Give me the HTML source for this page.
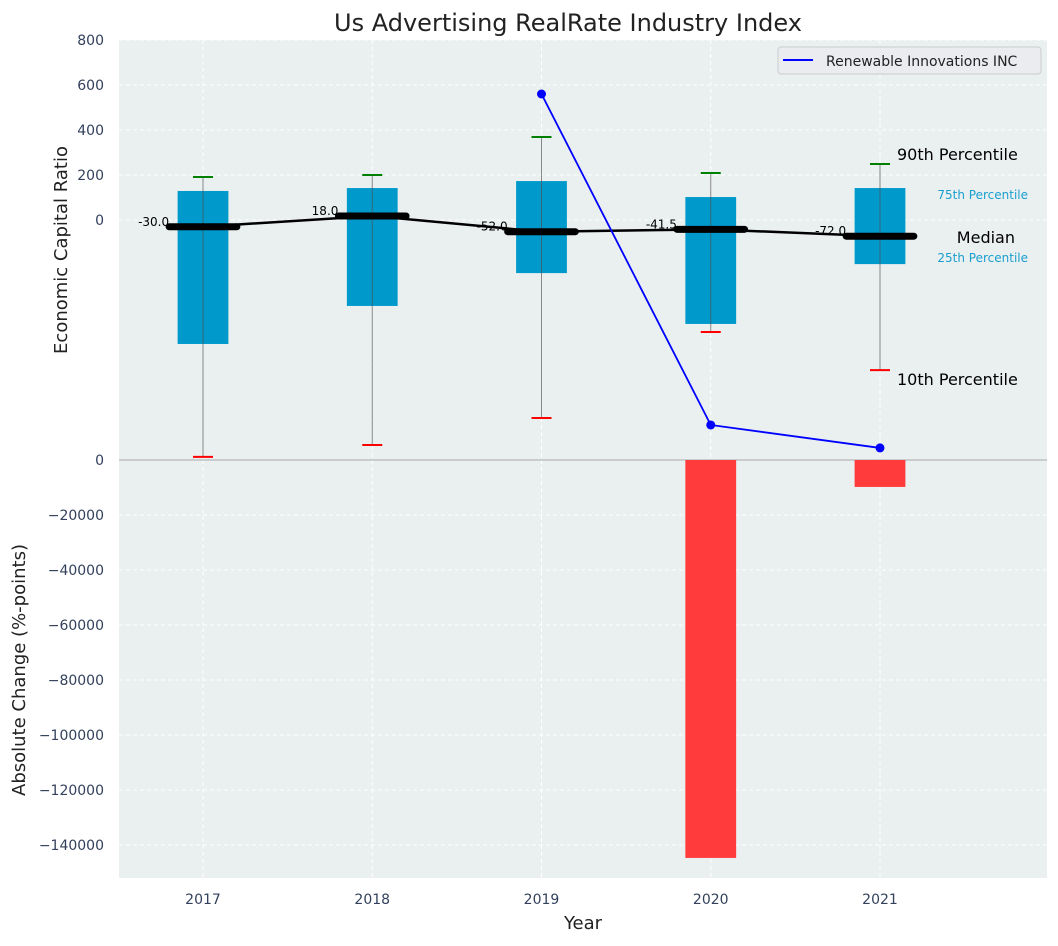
<!DOCTYPE html>
<html><head><meta charset="utf-8"><style>
body{margin:0;background:#fff;font-family:"DejaVu Sans","Liberation Sans",sans-serif}
svg text{font-family:"DejaVu Sans","Liberation Sans",sans-serif}
</style></head><body>
<svg id="c" width="1058" height="942" xmlns="http://www.w3.org/2000/svg"></svg>
<script>
const years=[2017,2018,2019,2020,2021];
const q75=[129,142,173,102,142];
const q25=[-551,-382,-236,-462,-196];
const p90=[191,200,369,209,249];
const p10=[-1053,-1000,-880,-498,-667];
const medians=[-30,18,-52,-41.5,-72];
const lineYears=[2019,2020,2021];
const lineVals=[560,-911,-1013];
const changeYears=[2020,2021];
const changeVals=[-144700,-9800];
const topTicks=[800,600,400,200,0];
const botTicks=[0,-20000,-40000,-60000,-80000,-100000,-120000,-140000];

const NS="http://www.w3.org/2000/svg";
const svg=document.getElementById('c');
function el(t,a,txt){const e=document.createElementNS(NS,t);for(const k in a)e.setAttribute(k,a[k]);if(txt!==undefined)e.textContent=txt;svg.appendChild(e);return e;}
const X0=119,X1=1047;
const px=169.25;
const x=v=>203+(v-2017)*px;
const yT=v=>220-v*45/200;
const yB=v=>460-v*55/20000;

let e=el('rect',{x:X0,y:40,width:X1-X0,height:838,fill:'#eaeff0'});

years.forEach(v=>{let g=el('line',{x1:x(v),x2:x(v),y1:40,y2:878,stroke:'#fff','stroke-dasharray':'4,3','stroke-width':1});
});
topTicks.forEach(v=>{let g=el('line',{x1:X0,x2:X1,y1:yT(v),y2:yT(v),stroke:'#fff','stroke-dasharray':'4,3'});

let t=el('text',{x:104,y:yT(v)+5,'text-anchor':'end','font-size':14,fill:'#33415c'},v);
});
botTicks.forEach(v=>{let g=el('line',{x1:X0,x2:X1,y1:yB(v),y2:yB(v),stroke:'#fff','stroke-dasharray':'4,3'});

let t=el('text',{x:104,y:yB(v)+5,'text-anchor':'end','font-size':14,fill:'#33415c'},v===0?'0':'\u2212'+Math.abs(v));
});
e=el('line',{x1:X0,x2:X1,y1:460,y2:460,stroke:'#aaa','stroke-width':1});

changeYears.forEach((v,i)=>{let r=el('rect',{x:x(v)-0.15*px,width:0.3*px,y:460,height:yB(changeVals[i])-460,fill:'#ff3b3b'});
});
years.forEach((v,i)=>{
 let w=el('line',{x1:x(v),x2:x(v),y1:yT(p90[i]),y2:yT(p10[i]),stroke:'#888','stroke-width':1});
 
 let b=el('rect',{x:x(v)-0.15*px,width:0.3*px,y:yT(q75[i]),height:yT(q25[i])-yT(q75[i]),fill:'#0099cc'});
 
 let c=el('line',{x1:x(v),x2:x(v),y1:yT(q75[i]),y2:yT(q25[i]),stroke:'#336677','stroke-width':1});
 
 let h=el('line',{x1:x(v)-10,x2:x(v)+10,y1:yT(p90[i]),y2:yT(p90[i]),stroke:'green','stroke-width':2});
 
 let l=el('line',{x1:x(v)-10,x2:x(v)+10,y1:yT(p10[i]),y2:yT(p10[i]),stroke:'red','stroke-width':2});
 
});
e=el('polyline',{points:years.map((v,i)=>x(v)+','+yT(medians[i])).join(' '),fill:'none',stroke:'#000','stroke-width':2.5});

years.forEach((v,i)=>{
 let m=el('line',{x1:x(v)-0.2*px,x2:x(v)+0.2*px,y1:yT(medians[i]),y2:yT(medians[i]),stroke:'#000','stroke-width':7,'stroke-linecap':'round'});
 
 let t=el('text',{x:x(v)-0.2*px,y:yT(medians[i])-1,'text-anchor':'end','font-size':12,fill:'#000'},medians[i].toFixed(1));
 
});
e=el('polyline',{points:lineYears.map((v,i)=>x(v)+','+yT(lineVals[i])).join(' '),fill:'none',stroke:'blue','stroke-width':1.8});

lineYears.forEach((v,i)=>{let p=el('circle',{cx:x(v),cy:yT(lineVals[i]),r:4.5,fill:'blue'});
});
const ann=[['90th Percentile',897,160,16,'#000','start'],['75th Percentile',1028,199,12,'#1a9fcf','end'],['Median',1015,243,16,'#000','end'],['25th Percentile',1028,262,12,'#1a9fcf','end'],['10th Percentile',897,385,16,'#000','start']];
ann.forEach(a=>{let t=el('text',{x:a[1],y:a[2],'font-size':a[3],fill:a[4],'text-anchor':a[5]},a[0]);
});
years.forEach(v=>{let t=el('text',{x:x(v),y:904,'text-anchor':'middle','font-size':14,fill:'#33415c'},v);
});
e=el('text',{x:583,y:929,'text-anchor':'middle','font-size':18,fill:'#222'},'Year');

e=el('text',{x:0,y:0,'text-anchor':'middle','font-size':18,fill:'#222',transform:'translate(67,250) rotate(-90)'},'Economic Capital Ratio');

e=el('text',{x:0,y:0,'text-anchor':'middle','font-size':18,fill:'#222',transform:'translate(25,670) rotate(-90)'},'Absolute Change (%-points)');

e=el('text',{x:568,y:31,'text-anchor':'middle','font-size':24,fill:'#222'},'Us Advertising RealRate Industry Index');

e=el('rect',{x:778,y:47,width:263,height:27,rx:3,fill:'#eaecf0',stroke:'#ccc'});

e=el('line',{x1:783,x2:813,y1:60,y2:60,stroke:'blue','stroke-width':2});

e=el('text',{x:826,y:66,'font-size':14,fill:'#222'},'Renewable Innovations INC');

</script>
</body></html>
